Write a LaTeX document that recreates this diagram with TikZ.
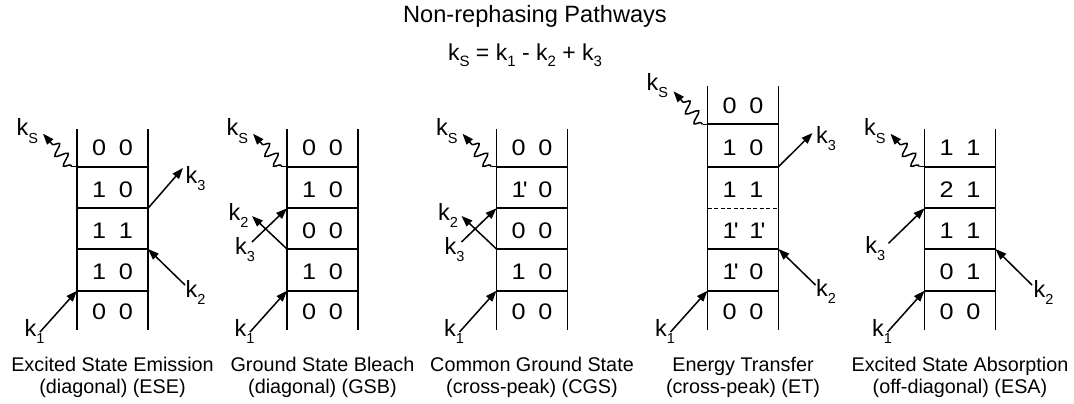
\documentclass[tikz,border=0pt]{standalone}
\usepackage{fontspec}
\usepackage{graphicx}
\setmainfont{Liberation Sans}
\usetikzlibrary{arrows.meta,decorations.pathmorphing}
\newcommand\ksub[1]{\raisebox{-7.5pt}{\fontsize{14.5}{15}\selectfont #1}}
\newcommand\esub[1]{\raisebox{-6.5pt}{\fontsize{15}{16}\selectfont #1}}
\newcommand\dg[1]{\scalebox{1.12}[1]{#1}}
\newcommand\pr{\rlap{\kern-2.5pt\textquotesingle}}
\newcommand\ladrow[5]{\node[dig] (#1) at (#2+35.5,#3-11) {\dg{#4}\hspace{12.8pt}\dg{#5}};}
\begin{document}
\begin{tikzpicture}[x=1pt,y=-1pt,
  lad/.style={line width=1.8pt},
  karr/.style={line width=1.5pt,-{Triangle[length=11pt,width=8pt]}},
  kwave/.style={line width=1.5pt,-{Triangle[length=11pt,width=8pt]},decorate,
    decoration={snake,amplitude=6pt,segment length=13pt,pre length=2pt,post length=8pt}},
  kfoot/.style={line width=1.5pt},
  klab/.style={anchor=base west,inner sep=0pt,font=\fontsize{23.5}{26}\selectfont},
  dig/.style={anchor=base,inner sep=0pt,font=\fontsize{22.5}{26}\selectfont},
  capt/.style={anchor=base,inner sep=0pt,font=\fontsize{19.8}{23}\selectfont},
  ttl/.style={anchor=base,inner sep=0pt,font=\fontsize{23.6}{28}\selectfont},
]
\useasboundingbox (0,0) rectangle (1074,404);

% ladder coordinates
\foreach \i/\L/\T in {1/77/129,2/287/129,3/496.5/129,4/707.5/86,5/924.5/129}{
  \coordinate (lt\i) at (\L,\T);
  \coordinate (rt\i) at (\L+71,\T);
  \coordinate (lb\i) at (\L,330);
  \coordinate (rb\i) at (\L+71,330);
  \foreach \k/\y in {0/124.3,1/166.7,2/208.3,3/249,4/290.7}{
    \coordinate (l\i-\k) at (\L,\y);
    \coordinate (r\i-\k) at (\L+71,\y);
  }
  \draw[lad] (lt\i) -- (lb\i);
  \draw[lad] (rt\i) -- (rb\i);
}
\foreach \i in {1,2,3,5}{
  \foreach \k in {1,2,3,4}{
    \draw[lad] (l\i-\k) -- (r\i-\k);
  }
}
\foreach \k in {0,1,3,4}{
  \draw[lad] (l4-\k) -- (r4-\k);
}
\draw[line width=1.2pt,dash pattern=on 4pt off 2.5pt] (l4-2) -- (r4-2);

% row labels
\ladrow{d1a}{77}{166.7}{0}{0}
\ladrow{d1b}{77}{208.3}{1}{0}
\ladrow{d1c}{77}{249}{1}{1}
\ladrow{d1d}{77}{290.7}{1}{0}
\ladrow{d1e}{77}{330}{0}{0}

\ladrow{d2a}{287}{166.7}{0}{0}
\ladrow{d2b}{287}{208.3}{1}{0}
\ladrow{d2c}{287}{249}{0}{0}
\ladrow{d2d}{287}{290.7}{1}{0}
\ladrow{d2e}{287}{330}{0}{0}

\ladrow{d3a}{496.5}{166.7}{0}{0}
\ladrow{d3b}{496.5}{208.3}{1\pr}{0}
\ladrow{d3c}{496.5}{249}{0}{0}
\ladrow{d3d}{496.5}{290.7}{1}{0}
\ladrow{d3e}{496.5}{330}{0}{0}

\ladrow{d4a}{707.5}{124.3}{0}{0}
\ladrow{d4b}{707.5}{166.7}{1}{0}
\ladrow{d4c}{707.5}{208.3}{1}{1}
\ladrow{d4d}{707.5}{249}{1\pr}{1\pr}
\ladrow{d4e}{707.5}{290.7}{1\pr}{0}
\ladrow{d4f}{707.5}{330}{0}{0}

\ladrow{d5a}{924.5}{166.7}{1}{1}
\ladrow{d5b}{924.5}{208.3}{2}{1}
\ladrow{d5c}{924.5}{249}{1}{1}
\ladrow{d5d}{924.5}{290.7}{0}{1}
\ladrow{d5e}{924.5}{330}{0}{0}

% ---- panel 1 (ESE)
\coordinate (f1) at (72,166.7);
\coordinate (s1) at (43,133.7);
\draw[kfoot] (l1-1) -- (f1);
\draw[kwave] (f1) -- (s1);
\node[klab] (ks1) at (16.5,135.5) {k\ksub{S}};
\coordinate (a1) at (40,332);
\draw[karr] (a1) -- (l1-4);
\node[klab] (k11) at (24.5,336) {k\ksub{1}};
\coordinate (b1) at (185,285);
\draw[karr] (b1) -- (r1-3);
\node[klab] (k21) at (185.5,297) {k\ksub{2}};
\coordinate (c1) at (183,168);
\draw[karr] (r1-2) -- (c1);
\node[klab] (k31) at (185.5,183.3) {k\ksub{3}};

% ---- panel 2 (GSB)
\coordinate (f2) at (282,166.7);
\coordinate (s2) at (253,133.7);
\draw[kfoot] (l2-1) -- (f2);
\draw[kwave] (f2) -- (s2);
\node[klab] (ks2) at (226.5,135.5) {k\ksub{S}};
\coordinate (a2) at (250,332);
\draw[karr] (a2) -- (l2-4);
\node[klab] (k12) at (234.5,336) {k\ksub{1}};
\coordinate (b2) at (252,216);
\draw[karr] (l2-3) -- (b2);
\node[klab] (k22) at (228.5,220) {k\ksub{2}};
\coordinate (c2) at (252,242);
\draw[karr] (c2) -- (l2-2);
\node[klab] (k32) at (235,254) {k\ksub{3}};

% ---- panel 3 (CGS)
\coordinate (f3) at (491.5,166.7);
\coordinate (s3) at (462.5,133.7);
\draw[kfoot] (l3-1) -- (f3);
\draw[kwave] (f3) -- (s3);
\node[klab] (ks3) at (436,135.5) {k\ksub{S}};
\coordinate (a3) at (459.5,332);
\draw[karr] (a3) -- (l3-4);
\node[klab] (k13) at (444,336) {k\ksub{1}};
\coordinate (b3) at (461.5,216);
\draw[karr] (l3-3) -- (b3);
\node[klab] (k23) at (438,220) {k\ksub{2}};
\coordinate (c3) at (461.5,242);
\draw[karr] (c3) -- (l3-2);
\node[klab] (k33) at (444.5,254) {k\ksub{3}};

% ---- panel 4 (ET)
\coordinate (f4) at (702.5,124.3);
\coordinate (s4) at (673.5,91.3);
\draw[kfoot] (l4-0) -- (f4);
\draw[kwave] (f4) -- (s4);
\node[klab] (ks4) at (646.5,90) {k\ksub{S}};
\coordinate (a4) at (670.5,332);
\draw[karr] (a4) -- (l4-4);
\node[klab] (k14) at (655,336) {k\ksub{1}};
\coordinate (b4) at (815.5,285);
\draw[karr] (b4) -- (r4-3);
\node[klab] (k24) at (816,296) {k\ksub{2}};
\coordinate (c4) at (812.5,133);
\draw[karr] (r4-1) -- (c4);
\node[klab] (k34) at (816,143) {k\ksub{3}};

% ---- panel 5 (ESA)
\coordinate (f5) at (919.5,166.7);
\coordinate (s5) at (890.5,133.7);
\draw[kfoot] (l5-1) -- (f5);
\draw[kwave] (f5) -- (s5);
\node[klab] (ks5) at (864,135.5) {k\ksub{S}};
\coordinate (a5) at (887.5,332);
\draw[karr] (a5) -- (l5-4);
\node[klab] (k15) at (872,336) {k\ksub{1}};
\coordinate (c5) at (888.5,243.3);
\draw[karr] (c5) -- (l5-2);
\node[klab] (k35) at (865.2,253.3) {k\ksub{3}};
\coordinate (b5) at (1032,285);
\draw[karr] (b5) -- (r5-3);
\node[klab] (k25) at (1033.5,297) {k\ksub{2}};

% captions
\node[capt] (c1a) at (112.5,371.7) {Excited State Emission};
\node[capt] (c1b) at (112.5,393.5) {(diagonal) (ESE)};
\node[capt] (c2a) at (322.5,371.7) {Ground State Bleach};
\node[capt] (c2b) at (322.5,393.5) {(diagonal) (GSB)};
\node[capt] (c3a) at (532,371.7) {Common Ground State};
\node[capt] (c3b) at (532,393.5) {(cross-peak) (CGS)};
\node[capt] (c4a) at (743,371.7) {Energy Transfer};
\node[capt] (c4b) at (743,393.5) {(cross-peak) (ET)};
\node[capt] (c5a) at (960,371.7) {Excited State Absorption};
\node[capt] (c5b) at (960,393.5) {(off-diagonal) (ESA)};

% title and equation
\node[ttl] (title) at (535,22.7) {Non-rephasing Pathways};
\node[anchor=base,inner sep=0pt,font=\fontsize{23}{27}\selectfont] (eq) at (525,60)
  {k\esub{S} = k\esub{1} - k\esub{2} + k\esub{3}};
\end{tikzpicture}
\end{document}
